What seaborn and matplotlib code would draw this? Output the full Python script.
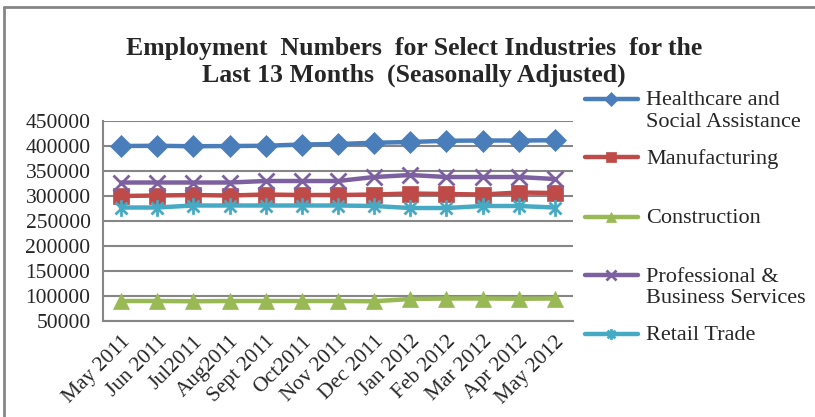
import numpy as np
import pandas as pd
import matplotlib
matplotlib.use("Agg")
import matplotlib.pyplot as plt
from matplotlib.path import Path
from matplotlib.lines import Line2D
import seaborn as sns

# dados
meses = ["May 2011", "Jun 2011", "Jul2011", "Aug2011", "Sept 2011", "Oct2011",
         "Nov 2011", "Dec 2011", "Jan 2012", "Feb 2012", "Mar 2012", "Apr 2012",
         "May 2012"]
healthcare = [400000, 400500, 399500, 400000, 400500, 403000, 404000, 406500,
              408000, 410500, 411000, 411000, 411500]
manufacturing = [300000, 301000, 302000, 301000, 303000, 302000, 302000, 303000,
                 305000, 304000, 303000, 307000, 306000]
construction = [90000, 90000, 89500, 90000, 90000, 90000, 90000, 89500,
                94000, 95000, 95000, 94500, 95000]
professional = [327000, 327000, 327000, 327000, 330000, 330000, 330000, 338000,
                342000, 338000, 338000, 338000, 334000]
retail = [277000, 277000, 281000, 281000, 281000, 281000, 281000, 280000,
          276000, 276000, 280000, 280000, 277000]

series = ["Healthcare and\nSocial Assistance", "Manufacturing\n", "Construction\n",
          "Professional &\nBusiness Services", "Retail Trade\n"]
valores = [healthcare, manufacturing, construction, professional, retail]
cores = ["#4A7EBB", "#BE4B48", "#98B954", "#7D60A0", "#46AAC5"]

estrela = Path([(0, -1), (0, 1), (-0.72, -0.72), (0.72, 0.72), (-0.72, 0.72), (0.72, -0.72)],
               [Path.MOVETO, Path.LINETO, Path.MOVETO, Path.LINETO, Path.MOVETO, Path.LINETO])
marcadores = ["D", "s", "^", "x", estrela]
tamanhos = [11, 11, 12, 11, 12]

sns.set_style("white")
plt.rcParams["font.family"] = ["Liberation Serif", "DejaVu Serif"]

fig = plt.figure(figsize=(8.15, 4.17), dpi=100)
ax = fig.add_axes([0.1264, 0.2302, 0.703 - 0.1264, 0.7098 - 0.2302])

x = np.arange(len(meses))
for nome, vals, cor, mk, ms in zip(series, valores, cores, marcadores, tamanhos):
    df = pd.DataFrame({"x": x, "v": vals})
    linha = mk == "x" or isinstance(mk, Path)
    sns.lineplot(data=df, x="x", y="v", ax=ax, color=cor, linewidth=3.2,
                 marker=mk, markersize=ms, markerfacecolor=cor,
                 markeredgecolor=cor, markeredgewidth=2.0 if linha else 0.5,
                 label=nome, solid_joinstyle="round", solid_capstyle="round")

cinza = "#868686"
ax.set_xlim(-0.5, len(meses) - 0.5)
ax.set_ylim(50000, 450000)
ax.set_yticks(np.arange(50000, 450001, 50000))
ax.set_yticklabels([str(v) for v in range(50000, 450001, 50000)], fontsize=15.5)
ax.set_xticks(x)
ax.set_xticklabels(meses, rotation=45, ha="right", rotation_mode="anchor", fontsize=15.5)
ax.set_xticks(np.arange(-0.5, len(meses), 1.0), minor=True)
ax.tick_params(axis="x", which="major", length=0, pad=8)
ax.tick_params(axis="x", which="minor", length=6, width=1.5, color=cinza, direction="out")
ax.tick_params(axis="y", length=6, width=1.5, color=cinza, direction="out", pad=3)
ax.set_xlabel("")
ax.set_ylabel("")
ax.grid(axis="y", color=cinza, linewidth=1.5)
ax.set_axisbelow(True)
for lado in ["top", "right"]:
    ax.spines[lado].set_visible(False)
for lado in ["left", "bottom"]:
    ax.spines[lado].set_color(cinza)
    ax.spines[lado].set_linewidth(1.5)

ax.get_legend().remove()
h, l = ax.get_legend_handles_labels()
leg = fig.legend(h, l, loc="upper left", bbox_to_anchor=(0.693, 0.83), frameon=False,
                 fontsize=16, handlelength=2.4, handletextpad=0.35, labelspacing=0.8,
                 markerscale=0.65)
for col in leg._legend_handle_box.get_children():
    for row in col.get_children():
        row.align = "top"

fig.text(0.508, 0.852, "Employment  Numbers  for Select Industries  for the\n"
         "Last 13 Months  (Seasonally Adjusted)", ha="center", va="center",
         fontsize=18.5, fontweight="bold", linespacing=1.22)

# moldura do gráfico (só topo e esquerda aparecem)
fig.add_artist(Line2D([4 / 815, 1.0], [1 - 7 / 417, 1 - 7 / 417], transform=fig.transFigure,
                      color=cinza, linewidth=2))
fig.add_artist(Line2D([4 / 815, 4 / 815], [0.0, 1 - 7 / 417], transform=fig.transFigure,
                      color=cinza, linewidth=2))

fig.savefig("out.png", dpi=100)
